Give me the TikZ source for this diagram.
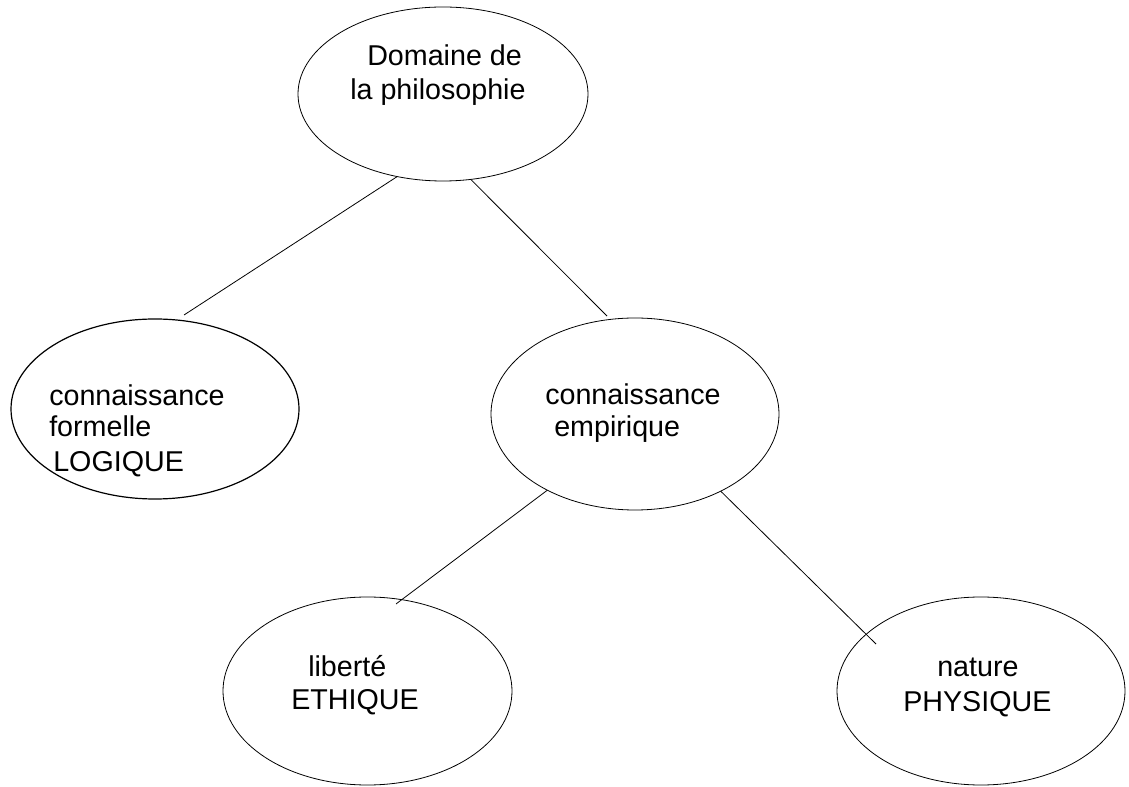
\documentclass[tikz,border=0pt]{standalone}
\usepackage{fontspec}
\setmainfont{Liberation Sans}
\usetikzlibrary{shapes.geometric}
\begin{document}
\begin{tikzpicture}[x=0.75pt,y=-0.75pt,
  bubble/.style={draw=black,line width=0.6pt,ellipse,inner sep=0pt,outer sep=0pt},
  txt/.style={inner sep=0pt,anchor=base west,font=\fontsize{21.5}{26}\selectfont},
  link/.style={draw=black,line width=0.6pt}]
\useasboundingbox (0,0) rectangle (1129,787);

% ellipses
\node[bubble,minimum width=290*0.75pt,minimum height=174*0.75pt] (root) at (443,94) {};
\node[bubble,line width=0.9pt,minimum width=288*0.75pt,minimum height=180*0.75pt] (formal) at (155,409) {};
\node[bubble,minimum width=288*0.75pt,minimum height=192*0.75pt] (empir) at (635,414) {};
\node[bubble,minimum width=289*0.75pt,minimum height=188*0.75pt] (ethic) at (367.5,691) {};
\node[bubble,minimum width=288*0.75pt,minimum height=188*0.75pt] (phys) at (981,691) {};

% labels
\node[txt] (r1) at (367,66) {Domaine de};
\node[txt] (r2) at (350,100) {la philosophie};
\node[txt] (f1) at (49,406) {connaissance};
\node[txt] (f2) at (49,437) {formelle};
\node[txt] (f3) at (53,472) {LOGIQUE};
\node[txt] (e1) at (545,405) {connaissance};
\node[txt] (e2) at (554,437) {empirique};
\node[txt] (l1) at (308,677) {liberté};
\node[txt] (l2) at (291,710) {ETHIQUE};
\node[txt] (p1) at (937,677) {nature};
\node[txt] (p2) at (903,711) {PHYSIQUE};

% free ends of the connectors
\coordinate (c1) at (184,315);
\coordinate (c2) at (607,316);
\coordinate (c3) at (396,604);
\coordinate (c4) at (876,644);

% connectors
\draw[link] (root.241.3) -- (c1);
\draw[link] (root.288.6) -- (c2);
\draw[link] (empir.221.6) -- (c3);
\draw[link] (empir.318.4) -- (c4);
\end{tikzpicture}
\end{document}
